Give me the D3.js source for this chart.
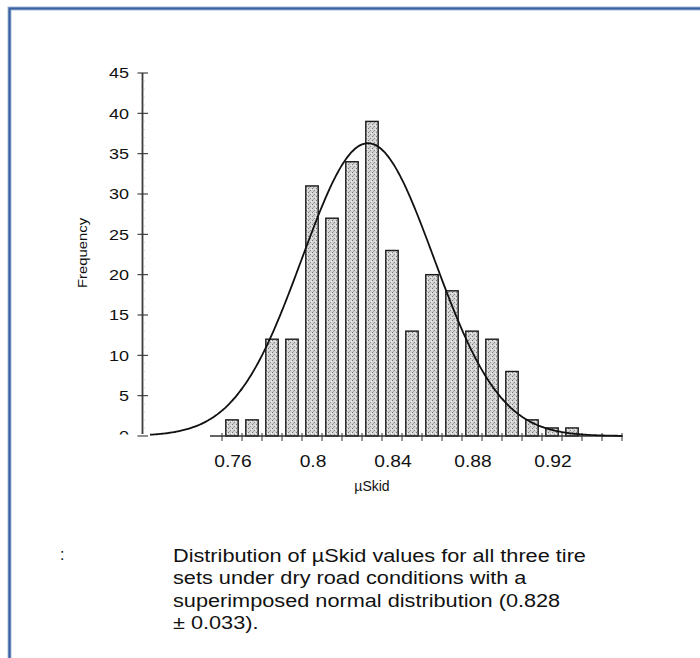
<!DOCTYPE html>
<html>
<head>
<meta charset="utf-8">
<script src="https://cdn.jsdelivr.net/npm/d3@7"></script>
<style>
  html, body { margin: 0; padding: 0; background: #fff; }
  svg { display: block; }
  text { font-family: "Liberation Sans", Arial, Helvetica, sans-serif; fill: #111; }
</style>
</head>
<body>
<svg id="chart" width="700" height="658"></svg>
<script>
// Histogram bins (centre of each 0.01-wide µSkid bin) and their counts
const binCenters = [0.76, 0.77, 0.78, 0.79, 0.80, 0.81, 0.82, 0.83, 0.84,
                    0.85, 0.86, 0.87, 0.88, 0.89, 0.90, 0.91, 0.92, 0.93];
const frequencies = [2, 2, 12, 12, 31, 27, 34, 39, 23,
                     13, 20, 18, 13, 12, 8, 2, 1, 1];
const binWidth = 0.01;

// Superimposed normal distribution
const normalMean = 0.828;
const normalSd = 0.033;
const normalPeak = 36.3;

// Axis ticks
const xTickLabels = [0.76, 0.80, 0.84, 0.88, 0.92];
const yTickValues = [0, 5, 10, 15, 20, 25, 30, 35, 40, 45];

const xTitle = "\u00B5Skid";
const yTitle = "Frequency";
const captionLines = [
  "Distribution of \u00B5Skid values for all three tire",
  "sets under dry road conditions with a",
  "superimposed normal distribution (0.828",
  "\u00B1 0.033)."
];

const svg = d3.select("#chart");

// stretch text along its writing direction
function stretch(sel, factor) {
  sel.each(function () {
    const len = this.getComputedTextLength();
    d3.select(this).attr("textLength", len * factor).attr("lengthAdjust", "spacingAndGlyphs");
  });
}

// Page frame
svg.append("rect")
  .attr("x", 9.5).attr("y", 8.5).attr("width", 900).attr("height", 900)
  .attr("fill", "none").attr("stroke", "#a9bddb").attr("stroke-width", 4);
svg.append("rect")
  .attr("x", 9.5).attr("y", 8.5).attr("width", 900).attr("height", 900)
  .attr("fill", "none").attr("stroke", "#3a62a0").attr("stroke-width", 2.2);

// Scales
const x = d3.scaleLinear().domain([0.76, 0.92]).range([232, 552]);
const y = d3.scaleLinear().domain([0, 45]).range([436, 73]);

// Stippled bar fill
const defs = svg.append("defs");
const pat = defs.append("pattern").attr("id", "stipple")
  .attr("patternUnits", "userSpaceOnUse").attr("width", 4).attr("height", 4);
pat.append("rect").attr("width", 4).attr("height", 4).attr("fill", "#d4d4d4");
pat.append("rect").attr("x", 0).attr("y", 0).attr("width", 1).attr("height", 1).attr("fill", "#7a7a7a");
pat.append("rect").attr("x", 2).attr("y", 2).attr("width", 1).attr("height", 1).attr("fill", "#8a8a8a");
pat.append("rect").attr("x", 3).attr("y", 1).attr("width", 1).attr("height", 1).attr("fill", "#f4f4f4");
pat.append("rect").attr("x", 1).attr("y", 3).attr("width", 1).attr("height", 1).attr("fill", "#a5a5a5");

defs.append("clipPath").attr("id", "yclip")
  .append("rect").attr("x", 0).attr("y", 0).attr("width", 700).attr("height", 434.5);

// Bars
const barHalf = 0.0031;
svg.append("g").selectAll("rect")
  .data(binCenters.map((c, i) => ({ c, f: frequencies[i] })))
  .join("rect")
  .attr("x", d => x(d.c - barHalf))
  .attr("width", d => x(d.c + barHalf) - x(d.c - barHalf))
  .attr("y", d => y(d.f))
  .attr("height", d => y(0) - y(d.f))
  .attr("fill", "url(#stipple)")
  .attr("stroke", "#1a1a1a")
  .attr("stroke-width", 1.4);

// Y axis
const yAxis = svg.append("g");
yAxis.append("line")
  .attr("x1", 142.5).attr("x2", 142.5).attr("y1", y(0) - 2).attr("y2", y(45))
  .attr("stroke", "#3a3a3a").attr("stroke-width", 1.8);
yAxis.selectAll("line.minor")
  .data(d3.range(1, 45).filter(v => v % 5 !== 0))
  .join("line").attr("class", "minor")
  .attr("x1", 142.5).attr("x2", 144.5)
  .attr("y1", d => y(d)).attr("y2", d => y(d))
  .attr("stroke", "#999").attr("stroke-width", 0.8);
yAxis.selectAll("line.major")
  .data(yTickValues)
  .join("line").attr("class", "major")
  .attr("x1", 137.5).attr("x2", 148)
  .attr("y1", d => y(d)).attr("y2", d => y(d))
  .attr("stroke", "#333").attr("stroke-width", 1.1);
const yLabels = yAxis.append("g").attr("clip-path", "url(#yclip)")
  .selectAll("text")
  .data(yTickValues)
  .join("text")
  .attr("x", 129).attr("y", d => y(d))
  .attr("dy", "0.36em")
  .attr("text-anchor", "end")
  .attr("font-size", 15)
  .text(d => d);
stretch(yLabels, 1.2);

// X axis
const xAxis = svg.append("g");
xAxis.append("line")
  .attr("x1", x(0.749)).attr("x2", x(0.9555)).attr("y1", 436).attr("y2", 436)
  .attr("stroke", "#333").attr("stroke-width", 1.3);
xAxis.selectAll("line.tick")
  .data(d3.range(0, 21).map(i => 0.755 + i * binWidth))
  .join("line").attr("class", "tick")
  .attr("x1", d => x(d)).attr("x2", d => x(d))
  .attr("y1", 433).attr("y2", 441)
  .attr("stroke", "#333").attr("stroke-width", 1);
const xLabels = xAxis.selectAll("text")
  .data(xTickLabels)
  .join("text")
  .attr("x", d => x(d) + 1).attr("y", 467)
  .attr("text-anchor", "middle")
  .attr("font-size", 16)
  .text(d => d3.format("")(+d.toFixed(2)));
stretch(xLabels, 1.2);

// Normal curve
const curvePts = d3.range(0.719, 0.9555, 0.001).map(v => [
  v, normalPeak * Math.exp(-0.5 * Math.pow((v - normalMean) / normalSd, 2))
]);
svg.append("path")
  .datum(curvePts)
  .attr("d", d3.line().x(d => x(d[0])).y(d => y(d[1])).curve(d3.curveBasis))
  .attr("fill", "none")
  .attr("stroke", "#111")
  .attr("stroke-width", 1.8);

// Axis titles
svg.append("text")
  .attr("x", 372).attr("y", 491)
  .attr("text-anchor", "middle")
  .attr("font-size", 14)
  .text(xTitle);
const yt = svg.append("text")
  .attr("transform", "translate(87,253) rotate(-90)")
  .attr("text-anchor", "middle")
  .attr("font-size", 13.5)
  .text(yTitle);
stretch(yt, 1.1);

// Caption
svg.append("text").attr("x", 60).attr("y", 560).attr("font-size", 16).text(":");
const cap = svg.append("g").selectAll("text")
  .data(captionLines)
  .join("text")
  .attr("x", 173)
  .attr("y", (d, i) => 562 + i * 22.3)
  .attr("font-size", 17.5)
  .text(d => d);
stretch(cap, 1.24);
</script>
</body>
</html>
